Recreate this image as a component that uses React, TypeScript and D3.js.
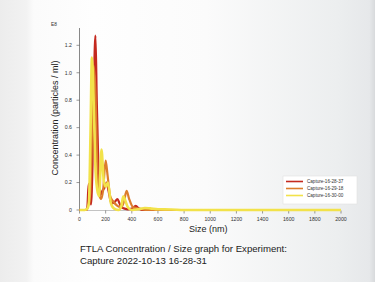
import React from "react";
import * as d3 from "d3";

const xTicks = [0, 200, 400, 600, 800, 1000, 1200, 1400, 1600, 1800, 2000];
const yTicks = [0, 0.2, 0.4, 0.6, 0.8, 1.0, 1.2];

const redSizes = [0, 50, 60, 70, 80, 88, 100, 112, 122, 132, 145, 160, 175, 190, 208, 222, 240, 255, 270, 290, 305, 320, 345, 370, 400, 430, 455, 480, 2000];
const redValues = [0, 0, 0.02, 0.19, 0.12, 0.04, 0.35, 1.0, 1.27, 0.8, 0.3, 0.11, 0.14, 0.16, 0.2, 0.14, 0.06, 0.05, 0.06, 0.08, 0.05, 0.02, 0.01, 0.005, 0.01, 0.03, 0.01, 0, 0];

const orangeSizes = [0, 55, 70, 82, 95, 108, 120, 135, 150, 165, 180, 200, 215, 235, 260, 290, 320, 340, 360, 380, 410, 460, 520, 2000];
const orangeValues = [0, 0, 0.05, 0.12, 0.55, 1.05, 0.9, 0.35, 0.12, 0.08, 0.14, 0.36, 0.25, 0.1, 0.06, 0.03, 0.02, 0.06, 0.14, 0.08, 0.02, 0.01, 0, 0];

const yellowSizes = [0, 40, 60, 72, 84, 95, 108, 120, 135, 150, 168, 185, 200, 217, 240, 265, 300, 320, 335, 350, 370, 400, 450, 500, 540, 600, 700, 800, 2000];
const yellowValues = [0, 0, 0.01, 0.05, 0.55, 1.11, 0.8, 0.35, 0.15, 0.1, 0.44, 0.22, 0.17, 0.2, 0.05, 0.01, 0, 0.03, 0.1, 0.07, 0.02, 0, 0.005, 0.015, 0.012, 0.005, 0.004, 0, 0];

const seriesNames = ["Capture-16-28-37", "Capture-16-29-18", "Capture-16-30-00"];
const seriesColors = ["#c4291f", "#dc7d2c", "#f2e24a"];

const FONT = "'Liberation Sans', Arial, sans-serif";

export default function App() {
  const W = 375, H = 282;
  const x = d3.scaleLinear().domain([0, 2000]).range([79.5, 341]);
  const y = d3.scaleLinear().domain([0, 1.2]).range([210, 45.3]);

  const line = d3
    .line<[number, number]>()
    .x((d) => x(d[0]))
    .y((d) => y(d[1]))
    .curve(d3.curveMonotoneX);

  const series = [
    { sizes: redSizes, values: redValues, w: 2.2 },
    { sizes: orangeSizes, values: orangeValues, w: 2.2 },
    { sizes: yellowSizes, values: yellowValues, w: 2.6 },
  ];
  const drawOrder = [0, 1, 2];

  return (
    <svg
      width={W}
      height={H}
      style={{ position: "fixed", left: 0, top: 0, display: "block" }}
      fontFamily={FONT}
    >
      <defs>
        <linearGradient id="bg" x1="0" x2="1" y1="0" y2="0">
          <stop offset="0" stopColor="#ececec" />
          <stop offset="0.07" stopColor="#f2f2f2" />
          <stop offset="0.09" stopColor="#fbfbfb" />
          <stop offset="0.25" stopColor="#fefefe" />
          <stop offset="0.55" stopColor="#fbfbfb" />
          <stop offset="0.9" stopColor="#eceeef" />
          <stop offset="0.985" stopColor="#e6e8ea" />
          <stop offset="1" stopColor="#d8dadc" />
        </linearGradient>
      </defs>
      <rect x={0} y={0} width={W} height={H} fill="url(#bg)" />

      {/* y axis */}
      <line x1={79.5} x2={79.5} y1={28} y2={211} stroke="#555" strokeWidth={0.7} />
      {yTicks.map((t) => (
        <g key={"y" + t}>
          <line x1={76.5} x2={79.5} y1={y(t)} y2={y(t)} stroke="#555" strokeWidth={0.6} />
          <text x={72} y={y(t) + 1.8} fontSize={5.2} textAnchor="end" fill="#333">
            {t === 0 ? "0" : t.toFixed(1)}
          </text>
        </g>
      ))}
      <text x={51} y={25.5} fontSize={4.8} fill="#333">E8</text>

      {/* x axis */}
      <line x1={79.5} x2={341} y1={210.5} y2={210.5} stroke="#888" strokeWidth={0.5} />
      {xTicks.map((t) => (
        <g key={"x" + t}>
          <line x1={x(t)} x2={x(t)} y1={210.5} y2={213.5} stroke="#555" strokeWidth={0.6} />
          <text x={x(t)} y={220.5} fontSize={5.2} textAnchor="middle" fill="#333">
            {t}
          </text>
        </g>
      ))}

      {drawOrder.map((i) => {
        const s = series[i];
        const pts = s.sizes.map((v, k) => [v, s.values[k]] as [number, number]);
        return (
          <path
            key={"s" + i}
            d={line(pts) || ""}
            fill="none"
            stroke={seriesColors[i]}
            strokeWidth={s.w}
            strokeLinejoin="round"
          />
        );
      })}

      {/* axis titles */}
      <text x={x(1000) - 2} y={232} fontSize={9} textAnchor="middle" fill="#222">
        Size (nm)
      </text>
      <text
        transform={`translate(57.5,118) rotate(-90)`}
        fontSize={9}
        textAnchor="middle"
        fill="#222"
      >
        Concentration (particles / ml)
      </text>

      {/* legend */}
      <rect x={283} y={176} width={74} height={28} fill="#ffffff" stroke="#e2e2e2" strokeWidth={0.6} />
      {seriesNames.map((n, i) => (
        <g key={"l" + i}>
          <line x1={286} x2={303} y1={181.5 + i * 7} y2={181.5 + i * 7} stroke={seriesColors[i]} strokeWidth={1.6} />
          <text x={307} y={183.3 + i * 7} fontSize={4.6} fill="#333">
            {n}
          </text>
        </g>
      ))}

      {/* caption */}
      <text x={80} y={251.5} fontSize={9.6} fill="#222">
        FTLA Concentration / Size graph for Experiment:
      </text>
      <text x={80} y={264} fontSize={9.6} fill="#222">
        Capture 2022-10-13 16-28-31
      </text>
    </svg>
  );
}
